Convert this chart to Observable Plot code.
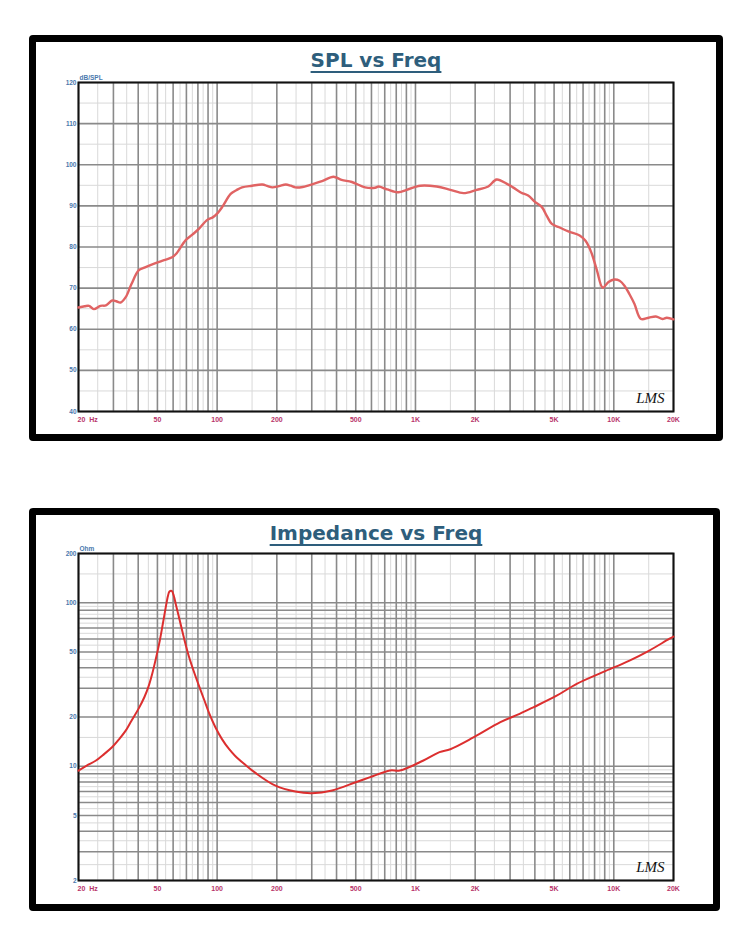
<!DOCTYPE html>
<html>
<head>
<meta charset="utf-8">
<script src="https://cdn.jsdelivr.net/npm/d3@7"></script>
<script src="https://cdn.jsdelivr.net/npm/@observablehq/plot@0.6"></script>
<style>
  html, body { margin: 0; padding: 0; background: #fff; }
  #page { position: relative; width: 750px; height: 941px; overflow: hidden; background: #fff; }
  .frame { position: absolute; box-sizing: border-box; border: 7px solid #000; border-radius: 4px; pointer-events: none; }
  .title {
    position: absolute; left: 29px; width: 694px; text-align: center;
    font-family: "DejaVu Sans", sans-serif; font-weight: 700; font-size: 20px;
    line-height: 21px; color: #2e5e7c;
    text-decoration: underline; text-decoration-thickness: 2px; text-underline-offset: 4px;
  }
  .chart { position: absolute; left: 0; }
</style>
</head>
<body>
<div id="page">
  <div class="title" style="top:50px">SPL vs Freq</div>
  <div class="chart" id="spl" style="top:66px"></div>
  <div class="frame" style="left:29px; top:35px; width:694px; height:406px"></div>

  <div class="title" style="top:523px">Impedance vs Freq</div>
  <div class="chart" id="imp" style="top:537px"></div>
  <div class="frame" style="left:29px; top:508px; width:691px; height:403px"></div>
</div>
<script>
// Frequency response (Hz, dB SPL)
const splFreq = [20, 21.5, 22.6, 23.9, 25.8, 27.5, 29.6, 31, 32.6, 34.6, 37, 40.2, 43, 48.9, 54, 59.3, 62, 69.3, 75, 80.9,
  89.2, 95, 100, 107, 117, 125, 133.5, 150, 169, 180, 189.7, 205, 222, 235, 248, 270, 290, 338, 386, 424,
  478, 557, 626, 652, 720, 821, 904, 1057, 1280, 1499, 1747, 2036, 2328, 2565, 2878, 3100, 3416, 3700, 4020, 4340,
  4600, 4870, 5300, 5900, 6730, 7200, 7700, 8200, 8800, 9400, 10060, 10700, 11320, 12000, 12700, 13700, 15000, 16300, 17600, 18500, 20000];
const splDb = [65.3, 65.6, 65.7, 64.9, 65.7, 65.8, 67.0, 66.8, 66.5, 67.8, 71.0, 74.3, 75.0, 76.1, 76.8, 77.5, 78.3, 81.6, 83.0, 84.4,
  86.6, 87.2, 88.1, 90.0, 92.9, 93.8, 94.5, 94.9, 95.2, 94.8, 94.5, 94.8, 95.2, 94.9, 94.5, 94.6, 95.0, 96.0, 97.1, 96.3,
  95.8, 94.5, 94.4, 94.7, 94.0, 93.3, 93.9, 94.9, 94.7, 93.9, 93.1, 93.9, 94.7, 96.4, 95.4, 94.5, 93.2, 92.5, 90.9, 89.7,
  87.5, 85.6, 84.8, 83.8, 82.8, 81.5, 78.7, 74.5, 70.1, 71.5, 72.1, 71.8, 70.6, 68.5, 66.2, 62.5, 62.8, 63.1, 62.5, 62.8, 62.4];

// Impedance magnitude (Hz, Ohm)
const impFreq = [20, 22, 24.4, 27, 29.6, 32, 34.6, 37, 40.2, 43, 45.2, 47, 49, 51, 53, 55, 56.5, 57.5, 59, 60.5,
  62, 64, 68, 72, 76, 81, 86, 91, 98, 105.6, 115, 123, 140, 156, 197, 248, 300, 380, 500, 591,
  744, 834, 1090, 1322, 1499, 1961, 2680, 3350, 3950, 5150, 6500, 8800, 12000, 15100, 19000, 20000];
const impOhm = [9.4, 10.1, 10.8, 11.9, 13.1, 14.6, 16.5, 19.0, 22.5, 26.5, 31, 36.5, 45, 56, 72, 93, 110, 117, 118, 110,
  97, 83, 61, 47, 38.5, 31, 25.5, 21.2, 17.3, 14.7, 12.7, 11.6, 10.1, 9.1, 7.6, 7.0, 6.84, 7.1, 7.98, 8.57,
  9.42, 9.42, 10.8, 12.2, 12.7, 15.0, 18.6, 20.9, 23.0, 27.0, 31.9, 37.6, 44.3, 51.0, 60.0, 62.0];

// Axis labels
const freqTicks = [50, 100, 200, 500, 1000, 2000, 5000, 10000, 20000];
const freqTickLabels = ["50", "100", "200", "500", "1K", "2K", "5K", "10K", "20K"];
const splTicks = [40, 50, 60, 70, 80, 90, 100, 110, 120];
const impTicks = [2, 5, 10, 20, 50, 100, 200];

const spl = splFreq.map((f, i) => ({f, v: splDb[i]}));
const imp = impFreq.map((f, i) => ({f, v: impOhm[i]}));
const xLabels = freqTicks.map((f, i) => ({f, label: freqTickLabels[i]}));

// Log-decade grid: heavy lines on 1..9 x decade, faint lines half-way between them
function logGrid(lo, hi) {
  const major = [], minor = [];
  for (let d = 1; d <= 100000; d *= 10) {
    for (let k = 1; k <= 9; k++) {
      const a = k * d, b = (k + 0.5) * d;
      if (a >= lo && a <= hi) major.push(a);
      if (b > lo && b < hi) minor.push(b);
    }
  }
  return {major, minor};
}
const fGrid = logGrid(20, 20000);
const zGrid = logGrid(2, 200);
const splMajor = d3.range(40, 121, 10);
const splMinor = d3.range(45, 120, 10);

const darkGrid = "#8a8a8a";
const lightGrid = "#d9d9d9";
const tickBlue = "#4a78ad";
const tickRed = "#b8336a";
const labelFont = "Liberation Sans, Arial, sans-serif";

function chart({data, yType, yDomain, yMajor, yMinor, yTicks, unit, height, innerHeight, lineColor, lineWidth}) {
  const y0 = yDomain[0];
  return Plot.plot({
    width: 750,
    height,
    marginLeft: 78,
    marginRight: 77,
    marginTop: 16,
    marginBottom: height - 16 - innerHeight,
    style: {background: "none", overflow: "visible"},
    x: {type: "log", domain: [20, 20000], axis: null},
    y: {type: yType, domain: yDomain, axis: null},
    marks: [
      Plot.ruleX(fGrid.minor, {stroke: lightGrid, strokeWidth: 1}),
      Plot.ruleY(yMinor, {stroke: lightGrid, strokeWidth: 1}),
      Plot.ruleX(fGrid.major, {stroke: darkGrid, strokeWidth: 1.6}),
      Plot.ruleY(yMajor, {stroke: darkGrid, strokeWidth: 1.6}),
      Plot.frame({stroke: "#111", strokeWidth: 2}),
      Plot.line(data, {x: "f", y: "v", stroke: lineColor, strokeWidth: lineWidth, curve: "catmull-rom"}),
      Plot.text(yTicks, {x: 20, y: d => d, text: d => String(d), textAnchor: "end", dx: -2,
        fill: tickBlue, fontSize: 6.5, fontWeight: "bold", fontFamily: labelFont}),
      Plot.text([unit], {x: 20, y: yDomain[1], text: d => d, textAnchor: "start", dx: 1, dy: -5,
        fill: tickBlue, fontSize: 6.5, fontWeight: "bold", fontFamily: labelFont}),
      Plot.text(xLabels, {x: "f", y: y0, text: "label", dy: 8, lineAnchor: "middle",
        fill: tickRed, fontSize: 7, fontWeight: "bold", fontFamily: labelFont}),
      Plot.text(["20  Hz"], {x: 20, y: y0, text: d => d, textAnchor: "start", dx: -1, dy: 8, lineAnchor: "middle",
        fill: tickRed, fontSize: 7, fontWeight: "bold", fontFamily: labelFont}),
      Plot.text(["LMS"], {frameAnchor: "bottom-right", text: d => d, dx: -9, dy: -9,
        fill: "#111", fontSize: 15, fontStyle: "italic", fontFamily: "Liberation Serif, serif"})
    ]
  });
}

document.getElementById("spl").append(chart({
  data: spl, yType: "linear", yDomain: [40, 120], yMajor: splMajor, yMinor: splMinor,
  yTicks: splTicks, unit: "dB/SPL", height: 365, innerHeight: 329, lineColor: "#e06363", lineWidth: 2.4
}));

document.getElementById("imp").append(chart({
  data: imp, yType: "log", yDomain: [2, 200], yMajor: zGrid.major, yMinor: zGrid.minor,
  yTicks: impTicks, unit: "Ohm", height: 363, innerHeight: 327, lineColor: "#dc2f2f", lineWidth: 2
}));
</script>
</body>
</html>
